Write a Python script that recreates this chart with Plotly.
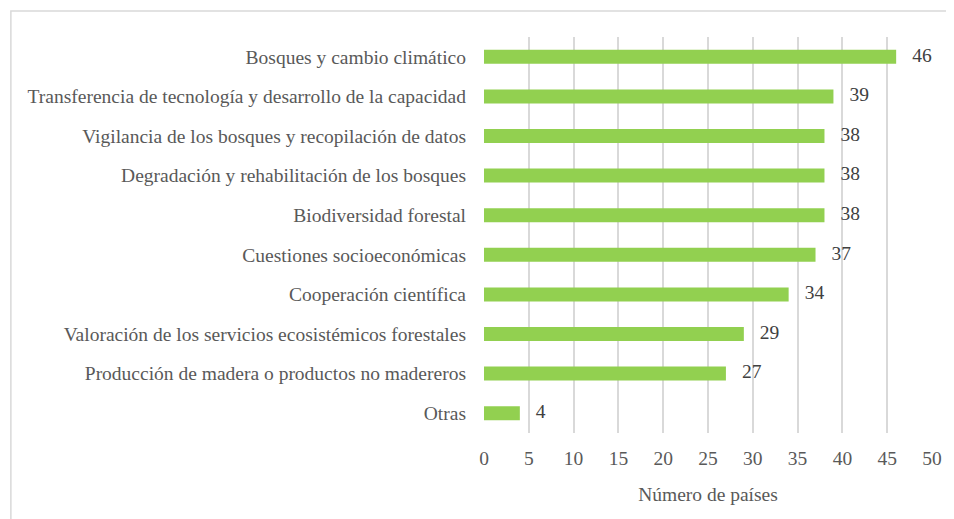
import plotly.graph_objects as go

categorias = [
    "Bosques y cambio climático",
    "Transferencia de tecnología y desarrollo de la capacidad",
    "Vigilancia de los bosques y recopilación de datos",
    "Degradación y rehabilitación de los bosques",
    "Biodiversidad forestal",
    "Cuestiones socioeconómicas",
    "Cooperación científica",
    "Valoración de los servicios ecosistémicos forestales",
    "Producción de madera o productos no madereros",
    "Otras",
]
paises = [46, 39, 38, 38, 38, 37, 34, 29, 27, 4]
ticks_x = [0, 5, 10, 15, 20, 25, 30, 35, 40, 45, 50]

FONT = "Liberation Serif, Times New Roman, serif"
GRIS = "#595959"

fig = go.Figure()
fig.add_trace(
    go.Bar(
        x=paises,
        y=categorias,
        orientation="h",
        marker=dict(color="#92d050", line=dict(width=0)),
        width=0.354,
        hoverinfo="x+y",
    )
)
# etiquetas de valor a la derecha de cada barra
fig.add_trace(
    go.Scatter(
        x=paises,
        y=categorias,
        mode="markers+text",
        text=[str(v) for v in paises],
        textposition="middle right",
        marker=dict(size=24, color="rgba(0,0,0,0)"),
        textfont=dict(family=FONT, size=19.5, color="#404040"),
        cliponaxis=False,
        hoverinfo="skip",
    )
)

fig.update_yaxes(
    range=[len(categorias) - 0.5, -0.5],
    tickfont=dict(family=FONT, size=19.5, color=GRIS),
    ticklabelstandoff=17,
    showgrid=False,
)
fig.update_xaxes(
    range=[0, 50],
    tickvals=ticks_x,
    showgrid=True,
    gridcolor="#d9d9d9",
    gridwidth=1.5,
    zeroline=False,
    tickfont=dict(family=FONT, size=19.5, color=GRIS),
    ticklabelstandoff=11,
    title=dict(text="Número de países", font=dict(family=FONT, size=19.5, color=GRIS), standoff=19),
)

# marco del gráfico
fig.add_shape(
    type="rect", xref="paper", yref="paper",
    x0=-1.0561, x1=1.1, y0=-0.3, y1=1.0657,
    line=dict(color="#d9d9d9", width=1.5),
)

fig.update_layout(
    width=946,
    height=511,
    margin=dict(l=476, r=20, t=29, b=86),
    plot_bgcolor="white",
    paper_bgcolor="white",
    showlegend=False,
)

fig.write_html("out.html")
